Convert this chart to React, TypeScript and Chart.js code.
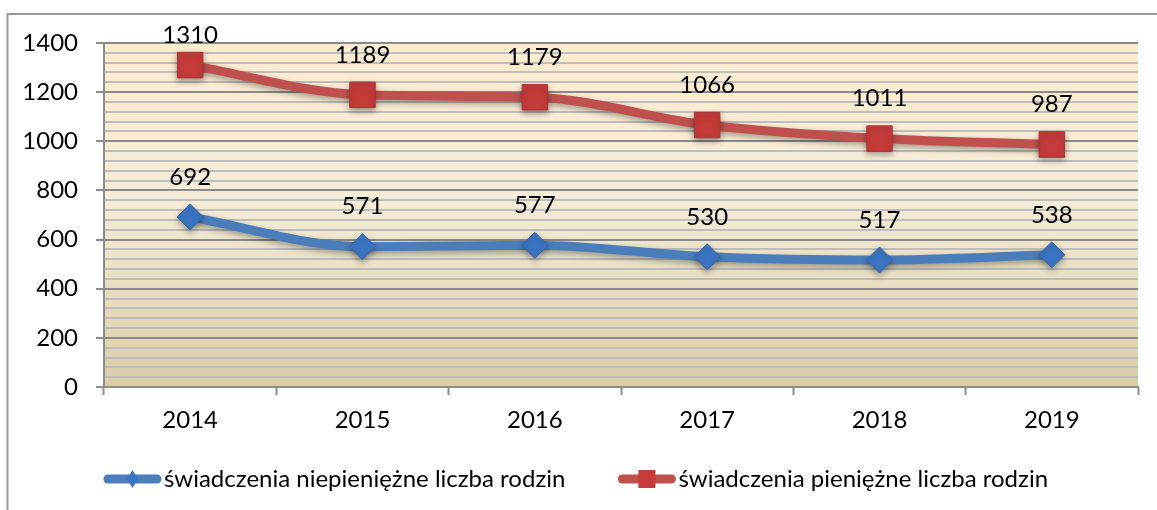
import React, { useEffect, useRef } from "react";
import { Chart, registerables } from "chart.js";

Chart.register(...registerables);

const years = ["2014", "2015", "2016", "2017", "2018", "2019"];
const nonCashFamilies = [692, 571, 577, 530, 517, 538];
const cashFamilies = [1310, 1189, 1179, 1066, 1011, 987];
const seriesLabels = [
  "świadczenia niepieniężne liczba rodzin",
  "świadczenia pieniężne liczba rodzin",
];
const yMajorTicks = [0, 200, 400, 600, 800, 1000, 1200, 1400];
const yMinorStep = 40;

const FONT = "Lato";
const FONT_SIZE = 24;
const BLUE_LINE = "#4A7EBB";
const BLUE_MARK = "#3B74C2";
const RED_LINE = "#C0504D";
const RED_MARK = "#C43B39";

const bgPlugin = {
  id: "bgFrame",
  beforeDraw(chart: any) {
    const { ctx, chartArea: a } = chart;
    ctx.save();
    ctx.fillStyle = "#ffffff";
    ctx.fillRect(0, 0, chart.width, chart.height);
    const g = ctx.createLinearGradient(0, a.top, 0, a.bottom);
    g.addColorStop(0, "#FDEBCF");
    g.addColorStop(0.45, "#F5EDD9");
    g.addColorStop(1, "#D9CCA6");
    ctx.fillStyle = g;
    ctx.fillRect(a.left, a.top, a.right - a.left, a.bottom - a.top);
    ctx.strokeStyle = "#9a9a9a";
    ctx.lineWidth = 2;
    ctx.beginPath();
    ctx.moveTo(7.5, chart.height + 2);
    ctx.lineTo(7.5, 14);
    ctx.lineTo(chart.width + 2, 14);
    ctx.stroke();
    ctx.restore();
  },
};

const shadowPlugin = {
  id: "shadows",
  beforeDatasetsDraw(chart: any) {
    const ctx = chart.ctx;
    ctx.save();
    ctx.shadowColor = "rgba(0,0,0,0.35)";
    ctx.shadowBlur = 6;
    ctx.shadowOffsetX = 0;
    ctx.shadowOffsetY = 3;
  },
  afterDatasetsDraw(chart: any) {
    chart.ctx.restore();
  },
};

const labelPlugin = {
  id: "valueLabels",
  afterDatasetsDraw(chart: any) {
    const ctx = chart.ctx;
    ctx.save();
    ctx.font = `${FONT_SIZE}px ${FONT}`;
    ctx.fillStyle = "#000";
    ctx.textAlign = "center";
    ctx.textBaseline = "middle";
    chart.data.datasets.forEach((ds: any, i: number) => {
      const meta = chart.getDatasetMeta(i);
      meta.data.forEach((pt: any, j: number) => {
        const y = Math.max(pt.y - 40, 35);
        ctx.fillText(String(ds.data[j]), pt.x, y);
      });
    });
    ctx.restore();
  },
};

function drawMarker(ctx: CanvasRenderingContext2D, style: string, x: number, y: number, color: string) {
  ctx.fillStyle = color;
  ctx.beginPath();
  if (style === "rect") {
    const s = 8.5;
    ctx.rect(x - s, y - 9, 2 * s, 18);
  } else {
    ctx.moveTo(x - 5.5, y);
    ctx.lineTo(x, y - 9);
    ctx.lineTo(x + 5.5, y);
    ctx.lineTo(x, y + 9);
    ctx.closePath();
  }
  ctx.fill();
}

const legendPlugin = {
  id: "customLegend",
  afterDraw(chart: any) {
    const ctx = chart.ctx;
    ctx.save();
    ctx.font = `${FONT_SIZE}px ${FONT}`;
    const lineLen = 57;
    const textGap = 3;
    const itemGap = 53;
    const datasets = chart.data.datasets;
    const widths = datasets.map((d: any) => lineLen + textGap + ctx.measureText(d.label).width);
    const total = widths.reduce((s: number, w: number) => s + w, 0) + itemGap * (datasets.length - 1);
    let x = 576 - total / 2;
    const y = 479;
    datasets.forEach((d: any, i: number) => {
      ctx.strokeStyle = d.borderColor;
      ctx.lineWidth = 9;
      ctx.lineCap = "round";
      ctx.beginPath();
      ctx.moveTo(x + 4, y);
      ctx.lineTo(x + lineLen - 4, y);
      ctx.stroke();
      drawMarker(ctx, d.pointStyle, x + lineLen / 2, y, d.pointBackgroundColor);
      ctx.fillStyle = "#000";
      ctx.textAlign = "left";
      ctx.textBaseline = "middle";
      ctx.fillText(d.label, x + lineLen + textGap, y);
      x += widths[i] + itemGap;
    });
    ctx.restore();
  },
};

export default function App() {
  const ref = useRef<HTMLCanvasElement | null>(null);
  useEffect(() => {
    if (!ref.current) return;
    const yMax = yMajorTicks[yMajorTicks.length - 1];
    const chart = new Chart(ref.current, {
      type: "line",
      data: {
        labels: years,
        datasets: [
          {
            label: seriesLabels[0],
            data: nonCashFamilies,
            borderColor: BLUE_LINE,
            backgroundColor: BLUE_LINE,
            borderWidth: 9,
            pointStyle: "rectRot",
            pointRadius: 13,
            pointBackgroundColor: BLUE_MARK,
            pointBorderColor: "#3567A8",
            pointBorderWidth: 1,
            tension: 0.3,
            cubicInterpolationMode: "monotone",
          },
          {
            label: seriesLabels[1],
            data: cashFamilies,
            borderColor: RED_LINE,
            backgroundColor: RED_LINE,
            borderWidth: 9,
            pointStyle: "rect",
            pointRadius: 18,
            pointBackgroundColor: RED_MARK,
            pointBorderColor: "#A83432",
            pointBorderWidth: 1,
            tension: 0.3,
            cubicInterpolationMode: "monotone",
          },
        ],
      },
      options: {
        responsive: false,
        animation: false,
        layout: { padding: { top: 43, right: 15, left: 0, bottom: 0 } },
        plugins: {
          legend: { display: false },
          tooltip: { enabled: false },
        },
        scales: {
          x: {
            offset: true,
            afterFit: (s: any) => {
              s.height = 123;
            },
            grid: {
              offset: true,
              drawOnChartArea: false,
              drawTicks: true,
              tickLength: 8,
              tickColor: "#8c8c8c",
              tickWidth: 2,
            },
            border: { color: "#8c8c8c", width: 2 },
            ticks: {
              padding: 11,
              color: "#000",
              font: { family: FONT, size: FONT_SIZE },
              maxRotation: 0,
            },
          },
          y: {
            min: 0,
            max: yMax,
            afterFit: (s: any) => {
              s.width = 104;
            },
            grid: {
              color: (c: any) => (c.tick && c.tick.value % 200 === 0 ? "#8a8a8a" : "#bdbdbd"),
              lineWidth: 2,
              tickLength: 8,
              tickColor: (c: any) => (c.tick && c.tick.value % 200 === 0 ? "#8c8c8c" : "rgba(0,0,0,0)"),
              tickWidth: 2,
            },
            border: { color: "#8c8c8c", width: 2 },
            ticks: {
              stepSize: yMinorStep,
              autoSkip: false,
              padding: 18,
              color: "#000",
              font: { family: FONT, size: FONT_SIZE },
              callback: (v: any) => (yMajorTicks.includes(Number(v)) ? String(v) : ""),
            },
          },
        },
      },
      plugins: [bgPlugin, shadowPlugin, labelPlugin, legendPlugin],
    } as any);
    return () => chart.destroy();
  }, []);
  return (
    <canvas
      ref={ref}
      width={1157}
      height={510}
      style={{ position: "absolute", left: 0, top: 0, display: "block", width: 1157, height: 510 }}
    />
  );
}
